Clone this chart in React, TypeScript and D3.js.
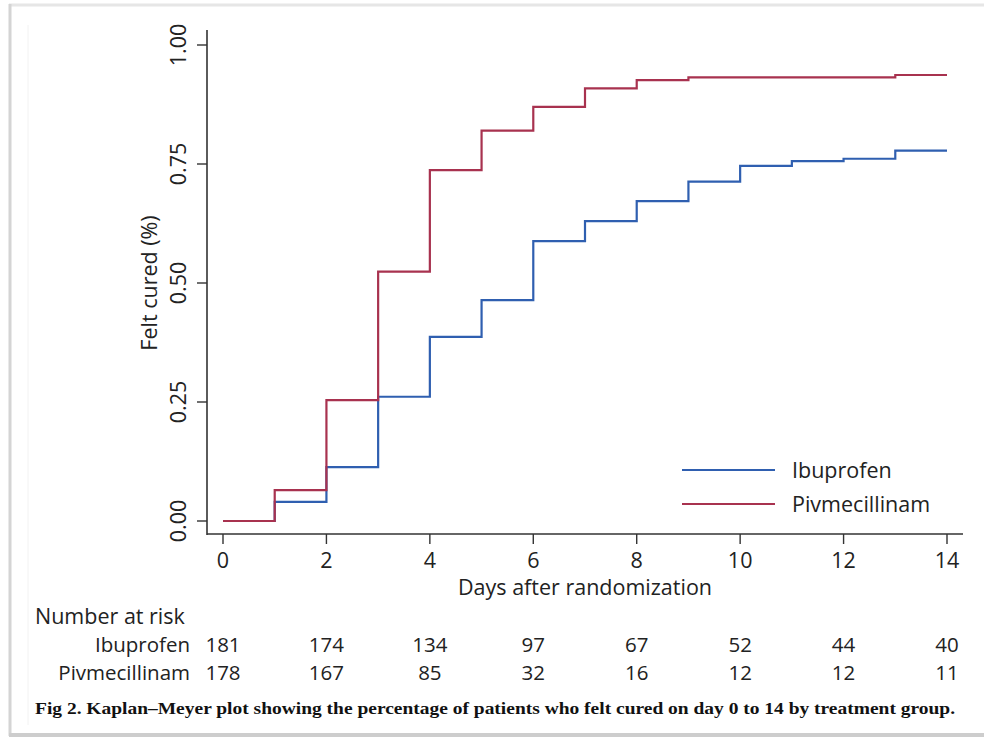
import { useEffect, useRef } from "react";
import * as d3 from "d3";

// Kaplan–Meyer curves: proportion who felt cured, by day
const days = [0, 1, 2, 3, 4, 5, 6, 7, 8, 9, 10, 11, 12, 13, 14];
const ibuprofen = [0, 0.04, 0.113, 0.261, 0.387, 0.464, 0.588, 0.63, 0.672, 0.713, 0.746, 0.756, 0.761, 0.778, 0.778];
const pivmecillinam = [0, 0.065, 0.254, 0.524, 0.737, 0.82, 0.87, 0.909, 0.926, 0.932, 0.932, 0.932, 0.932, 0.937, 0.937];

// Number at risk table
const riskDays = [0, 2, 4, 6, 8, 10, 12, 14];
const ibuprofenRisk = [181, 174, 134, 97, 67, 52, 44, 40];
const pivmecillinamRisk = [178, 167, 85, 32, 16, 12, 12, 11];

const xTicks = [0, 2, 4, 6, 8, 10, 12, 14];
const yTicks = [0, 0.25, 0.5, 0.75, 1];

const BLUE = "#2f5fb0";
const RED = "#a8324f";
const INK = "#222";
const FONT = "'Open Sans', 'Noto Sans', sans-serif";
const FS = 21.5;
const FS_RISK = 20.5;

export default function App() {
    const svgRef = useRef<SVGSVGElement | null>(null);

    useEffect(() => {
        const svgEl = svgRef.current;
        if (!svgEl) return;
        const svg = d3.select(svgEl);
        svg.selectAll("*").remove();

        const x = d3.scaleLinear().domain([0, 14]).range([223, 947]);
        const y = d3.scaleLinear().domain([0, 1]).range([521, 45]);
        const axisX = 207;
        const axisY = 534;

        // frame of the figure
        svg.append("rect").attr("x", 0).attr("y", 0).attr("width", 984).attr("height", 738).attr("fill", "#fff");
        svg.append("line").attr("x1", 9).attr("x2", 984).attr("y1", 5).attr("y2", 5)
            .attr("stroke", "#e6e6e6").attr("stroke-width", 3);
        svg.append("line").attr("x1", 10).attr("x2", 10).attr("y1", 4).attr("y2", 736)
            .attr("stroke", "#d4d4d4").attr("stroke-width", 3);
        svg.append("line").attr("x1", 9).attr("x2", 984).attr("y1", 735).attr("y2", 735)
            .attr("stroke", "#cdcdcd").attr("stroke-width", 4);
        svg.append("line").attr("x1", 28).attr("x2", 28).attr("y1", 25).attr("y2", 725)
            .attr("stroke", "#f2f2f2").attr("stroke-width", 1);

        const g = svg.append("g");

        // axis lines
        g.append("line").attr("x1", axisX).attr("x2", axisX).attr("y1", 30).attr("y2", axisY + 1)
            .attr("stroke", "#333").attr("stroke-width", 1.6);
        g.append("line").attr("x1", axisX).attr("x2", 963).attr("y1", axisY).attr("y2", axisY)
            .attr("stroke", "#333").attr("stroke-width", 1.6);

        // y ticks
        yTicks.forEach((t) => {
            g.append("line").attr("x1", axisX - 10).attr("x2", axisX).attr("y1", y(t)).attr("y2", y(t))
                .attr("stroke", "#333").attr("stroke-width", 1.4);
            g.append("text")
                .attr("transform", `translate(186,${y(t)}) rotate(-90)`)
                .attr("text-anchor", "middle")
                .attr("font-family", FONT)
                .attr("font-size", FS)
                .attr("fill", INK)
                .text(d3.format(".2f")(t));
        });

        // x ticks
        xTicks.forEach((t) => {
            g.append("line").attr("x1", x(t)).attr("x2", x(t)).attr("y1", axisY).attr("y2", axisY + 10)
                .attr("stroke", "#333").attr("stroke-width", 1.4);
            g.append("text")
                .attr("x", x(t))
                .attr("y", 568)
                .attr("text-anchor", "middle")
                .attr("font-family", FONT)
                .attr("font-size", FS)
                .attr("fill", INK)
                .text(t);
        });

        // axis titles
        g.append("text")
            .attr("transform", `translate(157,283) rotate(-90)`)
            .attr("text-anchor", "middle")
            .attr("font-family", FONT)
            .attr("font-size", FS)
            .attr("fill", INK)
            .text("Felt cured (%)");

        g.append("text")
            .attr("x", 585)
            .attr("y", 595)
            .attr("text-anchor", "middle")
            .attr("font-family", FONT)
            .attr("font-size", FS)
            .attr("fill", INK)
            .text("Days after randomization");

        // step curves
        const line = d3.line<number>()
            .x((_, i) => x(days[i]))
            .y((d) => y(d))
            .curve(d3.curveStepAfter);

        g.append("path").datum(ibuprofen)
            .attr("fill", "none").attr("stroke", BLUE).attr("stroke-width", 2.2).attr("d", line);
        g.append("path").datum(pivmecillinam)
            .attr("fill", "none").attr("stroke", RED).attr("stroke-width", 2.2).attr("d", line);

        // legend
        const legendItems = [
            { label: "Ibuprofen", color: BLUE },
            { label: "Pivmecillinam", color: RED },
        ];
        legendItems.forEach((item, i) => {
            const row = g.append("g").attr("transform", `translate(682,${470 + i * 34})`);
            row.append("line").attr("x1", 0).attr("x2", 93).attr("y1", 0).attr("y2", 0)
                .attr("stroke", item.color).attr("stroke-width", 2);
            row.append("text").attr("x", 110).attr("y", 8)
                .attr("font-family", FONT).attr("font-size", FS).attr("fill", INK)
                .text(item.label);
        });

        // number at risk
        g.append("text").attr("x", 35).attr("y", 624)
            .attr("font-family", FONT).attr("font-size", FS).attr("fill", INK)
            .text("Number at risk");

        const riskRows = [
            { label: "Ibuprofen", values: ibuprofenRisk, yPos: 652 },
            { label: "Pivmecillinam", values: pivmecillinamRisk, yPos: 680 },
        ];
        riskRows.forEach((row) => {
            g.append("text").attr("x", 190).attr("y", row.yPos).attr("text-anchor", "end")
                .attr("font-family", FONT).attr("font-size", FS_RISK).attr("fill", INK)
                .text(row.label);
            row.values.forEach((v, i) => {
                g.append("text").attr("x", x(riskDays[i])).attr("y", row.yPos).attr("text-anchor", "middle")
                    .attr("font-family", FONT).attr("font-size", FS_RISK).attr("fill", INK)
                    .text(v);
            });
        });

        // caption
        g.append("text").attr("x", 35).attr("y", 714)
            .attr("font-family", "'Liberation Serif', 'DejaVu Serif', serif")
            .attr("font-size", 17).attr("font-weight", 700).attr("fill", "#111")
            .attr("textLength", 920).attr("lengthAdjust", "spacingAndGlyphs")
            .text("Fig 2.  Kaplan–Meyer plot showing the percentage of patients who felt cured on day 0 to 14 by treatment group.");
    }, []);

    return (
        <div style={{ position: "absolute", left: 0, top: 0 }}>
            <svg ref={svgRef} width={984} height={738} style={{ display: "block" }} />
        </div>
    );
}
